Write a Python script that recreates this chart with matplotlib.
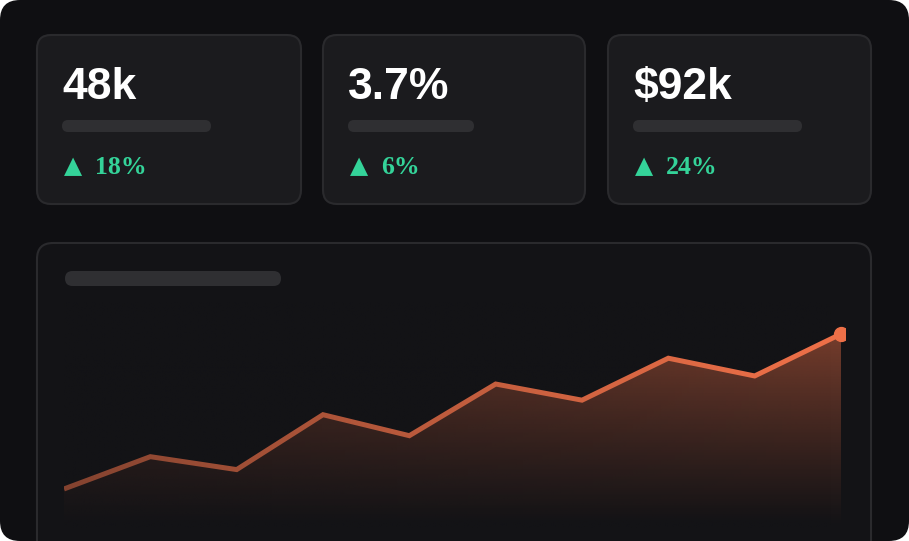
import numpy as np
import matplotlib
matplotlib.use('Agg')
import matplotlib.pyplot as plt
from matplotlib.patches import FancyBboxPatch, Polygon
from matplotlib.colors import to_rgb

# Data %%
kpi_values = ['48k', '3.7%', '$92k']
kpi_changes = ['18%', '6%', '24%']
trend = [12, 22, 18, 35, 28.5, 44.5, 39.5, 52.5, 47, 60]

# Colours %%
BG = '#0f0f12'
CARD = '#1b1b1e'
CARD_EDGE = '#2a2a2d'
CHART_CARD = '#131316'
SKELETON = '#2f2f32'
GREEN = '#34d399'
ORANGE = '#ee7048'

W, H = 909, 541
fig = plt.figure(figsize=(W / 100, H / 100), dpi=100, facecolor='white')

# Background axes in pixel coordinates %%
bg = fig.add_axes([0, 0, 1, 1])
bg.set_xlim(0, W)
bg.set_ylim(H, 0)
bg.axis('off')

def rbox(x0, y0, x1, y1, r, fc, ec='none', lw=0, z=1):
    p = FancyBboxPatch((x0 + r, y0 + r), (x1 - x0) - 2 * r, (y1 - y0) - 2 * r,
                       boxstyle='round,pad=%f' % r, fc=fc, ec=ec, lw=lw, zorder=z)
    bg.add_patch(p)

rbox(0, 0, W, H, 20, BG)

# KPI cards %%
card_x = [(37, 301), (323, 585), (608, 871)]
bar_w = [149, 126, 169]
for i, (x0, x1) in enumerate(card_x):
    rbox(x0, 35, x1, 204, 14, CARD, CARD_EDGE, 1.5, z=2)
    bg.text(x0 + 25, 99, kpi_values[i], color='white', fontsize=32,
            family='Liberation Sans', fontweight='bold', va='baseline', ha='left', zorder=3)
    rbox(x0 + 25, 120, x0 + 25 + bar_w[i], 132, 6, SKELETON, z=3)
    bg.text(x0 + 27, 173, '\u25b2', color=GREEN, fontsize=17, family='DejaVu Sans',
            va='baseline', ha='left', zorder=3)
    bg.text(x0 + 58, 174, kpi_changes[i], color=GREEN, fontsize=18.5,
            family='Liberation Serif', fontweight='bold',
            va='baseline', ha='left', zorder=3)

# Chart card %%
rbox(37, 243, 871, 600, 16, CHART_CARD, CARD_EDGE, 1.5, z=2)
rbox(65, 271, 281, 286, 7.5, SKELETON, z=3)

# Line chart axes %%
px0, px1 = 64, 845
py_bot, py_top = 527.7, 301.7
ax = fig.add_axes([px0 / W, (H - py_bot) / H, (px1 - px0) / W, (py_bot - py_top) / H])
ax.patch.set_alpha(0)
ax.axis('off')
x = np.arange(len(trend))
y = np.array(trend, dtype=float)
xmax = (len(trend) - 1) * (px1 - px0) / (841 - px0)
ax.set_xlim(0, xmax)
ax.set_ylim(0, 70)

# gradient fill under the line
orange = np.array(to_rgb(ORANGE))
ny = 200
gy = np.linspace(1, 0, ny)[:, None]
img = np.zeros((ny, 2, 4))
img[..., :3] = orange
img[..., 3] = 0.45 * gy ** 1.1
im = ax.imshow(img, extent=(0, xmax, 0, y.max()), aspect='auto',
               origin='upper', zorder=1, interpolation='bilinear')
verts = np.vstack([np.column_stack([x, y]), [[x[-1], 0], [x[0], 0]]])
clip = Polygon(verts, closed=True, transform=ax.transData, fc='none', ec='none')
ax.add_patch(clip)
im.set_clip_path(clip)

ax.plot(x, y, color=ORANGE, lw=3.6, solid_joinstyle='miter', solid_capstyle='butt', zorder=3)
ax.plot(x[-1], y[-1], 'o', color=ORANGE, markersize=10, zorder=3)

# left-to-right fade mask
nx = 300
mask = np.zeros((2, nx, 4))
mask[..., :3] = to_rgb(CHART_CARD)
mask[..., 3] = np.linspace(0.55, 0.0, nx)[None, :] ** 1.2
ax.imshow(mask, extent=(0, xmax, 0, 70), aspect='auto', zorder=5, interpolation='bilinear')
ax.set_xlim(0, xmax)
ax.set_ylim(0, 70)

fig.savefig('out.png', dpi=100, facecolor='white')
